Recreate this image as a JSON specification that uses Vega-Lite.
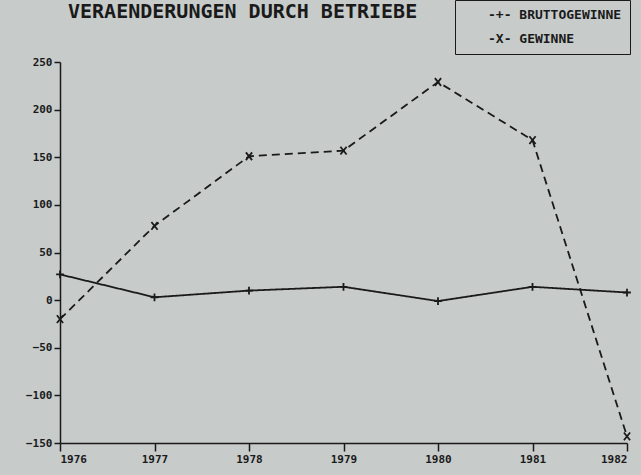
{
  "$schema": "https://vega.github.io/schema/vega-lite/v6.json",
  "width": 567,
  "height": 381,
  "autosize": {"type": "none"},
  "padding": {"left": 60, "top": 62, "right": 14, "bottom": 32},
  "background": "#c7cbca",
  "title": {
    "text": "VERAENDERUNGEN DURCH BETRIEBE",
    "anchor": "start",
    "frame": "group",
    "offset": 0,
    "dy": 22,
    "dx": 8,
    "font": "DejaVu Sans Mono",
    "fontSize": 20,
    "fontWeight": "bold",
    "color": "#1a1a1a"
  },
  "config": {
    "view": {"stroke": null},
    "axis": {
      "labelFont": "DejaVu Sans Mono",
      "labelFontWeight": "bold",
      "labelFontSize": 11,
      "labelColor": "#1a1a1a",
      "domainColor": "#1a1a1a",
      "tickColor": "#1a1a1a",
      "domainWidth": 1.5,
      "tickWidth": 1.5,
      "grid": false,
      "title": null
    }
  },
  "data": {
    "values": [
      {"year": 1976, "value": 27, "series": "BRUTTOGEWINNE"},
      {"year": 1977, "value": 3, "series": "BRUTTOGEWINNE"},
      {"year": 1978, "value": 10, "series": "BRUTTOGEWINNE"},
      {"year": 1979, "value": 14, "series": "BRUTTOGEWINNE"},
      {"year": 1980, "value": -1, "series": "BRUTTOGEWINNE"},
      {"year": 1981, "value": 14, "series": "BRUTTOGEWINNE"},
      {"year": 1982, "value": 8, "series": "BRUTTOGEWINNE"},
      {"year": 1976, "value": -20, "series": "GEWINNE"},
      {"year": 1977, "value": 78, "series": "GEWINNE"},
      {"year": 1978, "value": 151, "series": "GEWINNE"},
      {"year": 1979, "value": 157, "series": "GEWINNE"},
      {"year": 1980, "value": 229, "series": "GEWINNE"},
      {"year": 1981, "value": 168, "series": "GEWINNE"},
      {"year": 1982, "value": -143, "series": "GEWINNE"}
    ]
  },
  "encoding": {
    "x": {
      "field": "year",
      "type": "quantitative",
      "scale": {"domain": [1976, 1982], "nice": false, "zero": false},
      "axis": {"values": [1976, 1977, 1978, 1979, 1980, 1981, 1982], "format": "d", "tickSize": 8, "labelPadding": 2}
    },
    "y": {
      "field": "value",
      "type": "quantitative",
      "scale": {"domain": [-150, 250], "nice": false},
      "axis": {"values": [-150, -100, -50, 0, 50, 100, 150, 200, 250], "tickSize": 6, "labelPadding": 2}
    },
    "color": {
      "field": "series",
      "type": "nominal",
      "scale": {"range": ["#1a1a1a", "#1a1a1a"]},
      "legend": {
        "orient": "none",
        "legendX": 395,
        "legendY": -62,
        "title": null,
        "strokeColor": "#1a1a1a",
        "fillColor": "#c7cbca",
        "padding": 8,
        "symbolOpacity": 0,
        "symbolSize": 100,
        "symbolStrokeWidth": 0,
        "labelFont": "DejaVu Sans Mono",
        "labelFontSize": 13,
        "labelFontWeight": "bold",
        "labelColor": "#1a1a1a",
        "labelOffset": 12,
        "rowPadding": 10,
        "labelExpr": "datum.label == 'GEWINNE' ? '-X- GEWINNE' : '-+- ' + datum.label"
      }
    }
  },
  "layer": [
    {
      "mark": {"type": "line", "strokeWidth": 1.8},
      "encoding": {
        "strokeDash": {
          "field": "series",
          "type": "nominal",
          "scale": {"range": [[1, 0], [8, 5]]},
          "legend": null
        }
      }
    },
    {
      "mark": {"type": "point", "filled": false, "strokeWidth": 1.8, "size": 60, "opacity": 1},
      "encoding": {
        "shape": {
          "field": "series",
          "type": "nominal",
          "scale": {"range": ["M-1,0L1,0M0,-1L0,1", "M-0.8,-1L0.8,1M-0.8,1L0.8,-1"]},
          "legend": null
        }
      }
    }
  ]
}
